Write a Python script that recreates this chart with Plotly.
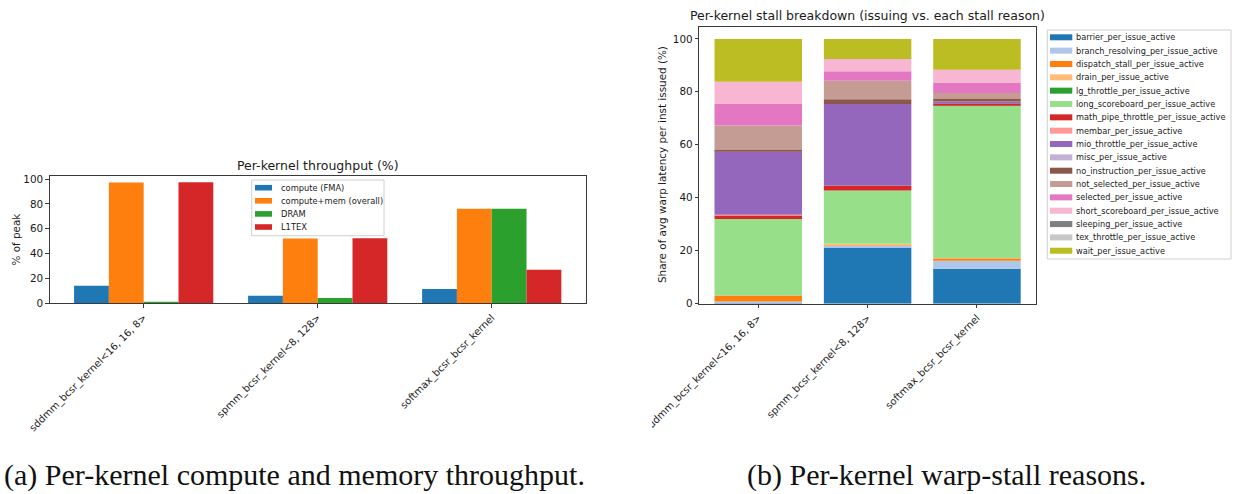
import numpy as np
import plotly.graph_objects as go

W, H = 1233, 494

# ---------------- data ----------------
kernels = ["sddmm_bcsr_kernel<16, 16, 8>", "spmm_bcsr_kernel<8, 128>", "softmax_bcsr_bcsr_kernel"]

tp_names = ["compute (FMA)", "compute+mem (overall)", "DRAM", "L1TEX"]
tp_colors = ["#1f77b4", "#ff7f0e", "#2ca02c", "#d62728"]
tp_fma = [14.2, 6.2, 11.5]
tp_overall = [97.3, 52.1, 76.2]
tp_dram = [1.2, 4.3, 76.2]
tp_l1tex = [97.5, 52.4, 27.0]

stall_names = [
    "barrier_per_issue_active", "branch_resolving_per_issue_active", "dispatch_stall_per_issue_active",
    "drain_per_issue_active", "lg_throttle_per_issue_active", "long_scoreboard_per_issue_active",
    "math_pipe_throttle_per_issue_active", "membar_per_issue_active", "mio_throttle_per_issue_active",
    "misc_per_issue_active", "no_instruction_per_issue_active", "not_selected_per_issue_active",
    "selected_per_issue_active", "short_scoreboard_per_issue_active", "sleeping_per_issue_active",
    "tex_throttle_per_issue_active", "wait_per_issue_active",
]
stall_colors = ["#1f77b4", "#aec7e8", "#ff7f0e", "#ffbb78", "#2ca02c", "#98df8a", "#d62728", "#ff9896",
                "#9467bd", "#c5b0d5", "#8c564b", "#c49c94", "#e377c2", "#f7b6d2", "#7f7f7f", "#c7c7c7",
                "#bcbd22"]
barrier = [0.3, 21.2, 13.2]
branch_resolving = [0.5, 0.7, 3.0]
dispatch_stall = [2.3, 0.2, 1.0]
drain = [0.0, 0.5, 0.1]
lg_throttle = [0.0, 0.0, 0.0]
long_scoreboard = [28.9, 20.1, 57.8]
math_pipe_throttle = [1.4, 1.8, 0.5]
membar = [0.2, 0.0, 0.2]
mio_throttle = [23.8, 30.9, 0.5]
misc = [0.1, 0.0, 0.1]
no_instruction = [0.5, 1.8, 0.9]
not_selected = [9.3, 7.0, 2.3]
selected = [8.1, 3.6, 3.9]
short_scoreboard = [8.4, 4.6, 4.8]
sleeping = [0.0, 0.0, 0.0]
tex_throttle = [0.0, 0.0, 0.0]
wait = [16.2, 7.6, 11.7]

tp_values = [tp_fma, tp_overall, tp_dram, tp_l1tex]
stall_values = [barrier, branch_resolving, dispatch_stall, drain, lg_throttle, long_scoreboard,
                math_pipe_throttle, membar, mio_throttle, misc, no_instruction, not_selected,
                selected, short_scoreboard, sleeping, tex_throttle, wait]

# ---------------- helpers ----------------
def px(x):
    return x / W

def py(y):
    return 1 - y / H

FONT = "DejaVu Sans"
TXT = "#1a1a1a"
AX = "#3a3a3a"
TICK = 10.4
XTICK = 10.0
TITLE = 12.5
LEG_L = 8.3
LEG_R = 8.2

fig = go.Figure()

# left: grouped bars
for name, color, vals in zip(tp_names, tp_colors, tp_values):
    fig.add_trace(go.Bar(x=kernels, y=vals, name=name, marker=dict(color=color, line=dict(width=0)),
                         xaxis="x", yaxis="y", showlegend=False))

# right: stacked bars (same offset group, explicit cumulative base)
arr = np.array(stall_values)
bases = np.vstack([np.zeros(arr.shape[1]), np.cumsum(arr, axis=0)[:-1]])
for name, color, vals, base in zip(stall_names, stall_colors, stall_values, bases):
    fig.add_trace(go.Bar(x=kernels, y=vals, base=base.tolist(), name=name, offsetgroup="stall",
                         marker=dict(color=color, line=dict(width=0)),
                         xaxis="x2", yaxis="y2", showlegend=False))

axis_common = dict(showline=True, mirror=True, linecolor=AX, linewidth=1, ticks="outside",
                   ticklen=3.5, tickwidth=1, tickcolor=AX, showgrid=False, zeroline=False,
                   automargin=False)

fig.update_layout(
    template="none",
    width=W, height=H, autosize=False,
    margin=dict(l=0, r=0, t=0, b=0, pad=0),
    paper_bgcolor="white", plot_bgcolor="white",
    barmode="group", bargap=0.2, bargroupgap=0,
    showlegend=False,
    font=dict(family=FONT, color=TXT),
    xaxis=dict(domain=[px(49.7), px(585.7)], range=[-0.54, 2.54], anchor="y", tickangle=-45,
               tickfont=dict(size=XTICK, family=FONT, color=TXT), **axis_common),
    yaxis=dict(domain=[py(303.4), py(175.7)], range=[0, 102.7], anchor="x", tickvals=[0, 20, 40, 60, 80, 100],
               tickfont=dict(size=TICK, family=FONT, color=TXT), **axis_common),
    xaxis2=dict(domain=[px(699.2), px(1036)], range=[-0.54, 2.54], anchor="y2", tickangle=-45,
                tickfont=dict(size=XTICK, family=FONT, color=TXT), **axis_common),
    yaxis2=dict(domain=[py(303.7), py(26.7)], range=[0, 104.6], anchor="x2", tickvals=[0, 20, 40, 60, 80, 100],
                tickfont=dict(size=TICK, family=FONT, color=TXT), **axis_common),
)

ann = []
shapes = []

# titles
ann.append(dict(text="Per-kernel throughput (%)", x=px(317.7), y=py(165.5), xref="paper", yref="paper",
                showarrow=False, xanchor="center", yanchor="middle", font=dict(size=TITLE, family=FONT, color=TXT)))
ann.append(dict(text="Per-kernel stall breakdown (issuing vs. each stall reason)", x=px(867.6), y=py(15.5),
                xref="paper", yref="paper", showarrow=False, xanchor="center", yanchor="middle",
                font=dict(size=TITLE, family=FONT, color=TXT)))
# y labels
ann.append(dict(text="% of peak", x=px(15), y=py(239.5), xref="paper", yref="paper", showarrow=False,
                textangle=-90, xanchor="center", yanchor="middle", font=dict(size=TICK, family=FONT, color=TXT)))
ann.append(dict(text="Share of avg warp latency per inst issued (%)", x=px(662), y=py(165), xref="paper",
                yref="paper", showarrow=False, textangle=-90, xanchor="center", yanchor="middle",
                font=dict(size=TICK, family=FONT, color=TXT)))
# captions
ann.append(dict(text="(a) Per-kernel compute and memory throughput.", x=px(294), y=py(475), xref="paper",
                yref="paper", showarrow=False, xanchor="center", yanchor="middle",
                font=dict(size=30, family="Liberation Serif", color="#111")))
ann.append(dict(text="(b) Per-kernel warp-stall reasons.", x=px(946), y=py(475), xref="paper",
                yref="paper", showarrow=False, xanchor="center", yanchor="middle",
                font=dict(size=30, family="Liberation Serif", color="#111")))

# left legend (inside, upper center)
shapes.append(dict(type="rect", xref="paper", yref="paper", x0=px(251.7), x1=px(384), y0=py(235.7), y1=py(180),
                   line=dict(color="#d0d0d0", width=1), fillcolor="rgba(255,255,255,0.85)", layer="above"))
for i, (name, color) in enumerate(zip(tp_names, tp_colors)):
    cy = 187.7 + i * 13.1
    shapes.append(dict(type="rect", xref="paper", yref="paper", x0=px(255), x1=px(272), y0=py(cy + 2.8),
                       y1=py(cy - 2.8), line=dict(width=0), fillcolor=color, layer="above"))
    ann.append(dict(text=name, x=px(278.5), y=py(cy), xref="paper", yref="paper", showarrow=False,
                    xanchor="left", yanchor="middle", font=dict(size=LEG_L, family=FONT, color=TXT)))

# right legend (outside)
shapes.append(dict(type="rect", xref="paper", yref="paper", x0=px(1047.3), x1=px(1231), y0=py(259), y1=py(30),
                   line=dict(color="#d0d0d0", width=1), fillcolor="white", layer="above"))
for i, (name, color) in enumerate(zip(stall_names, stall_colors)):
    cy = 37.3 + i * 13.34
    shapes.append(dict(type="rect", xref="paper", yref="paper", x0=px(1050), x1=px(1072.3), y0=py(cy + 3),
                       y1=py(cy - 3), line=dict(width=0), fillcolor=color, layer="above"))
    ann.append(dict(text=name, x=px(1073.5), y=py(cy), xref="paper", yref="paper", showarrow=False,
                    xanchor="left", yanchor="middle", font=dict(size=LEG_R, family=FONT, color=TXT)))

# subfigure (b) boundary clips the left of its first tick label
shapes.append(dict(type="rect", xref="paper", yref="paper", x0=px(600), x1=px(652), y0=py(445), y1=py(306),
                   line=dict(width=0), fillcolor="white", layer="above"))

fig.update_layout(annotations=ann, shapes=shapes)

fig.write_html("out.html", config={"displayModeBar": False},
               post_script="document.body.style.margin='0px';document.body.style.overflow='hidden';")
